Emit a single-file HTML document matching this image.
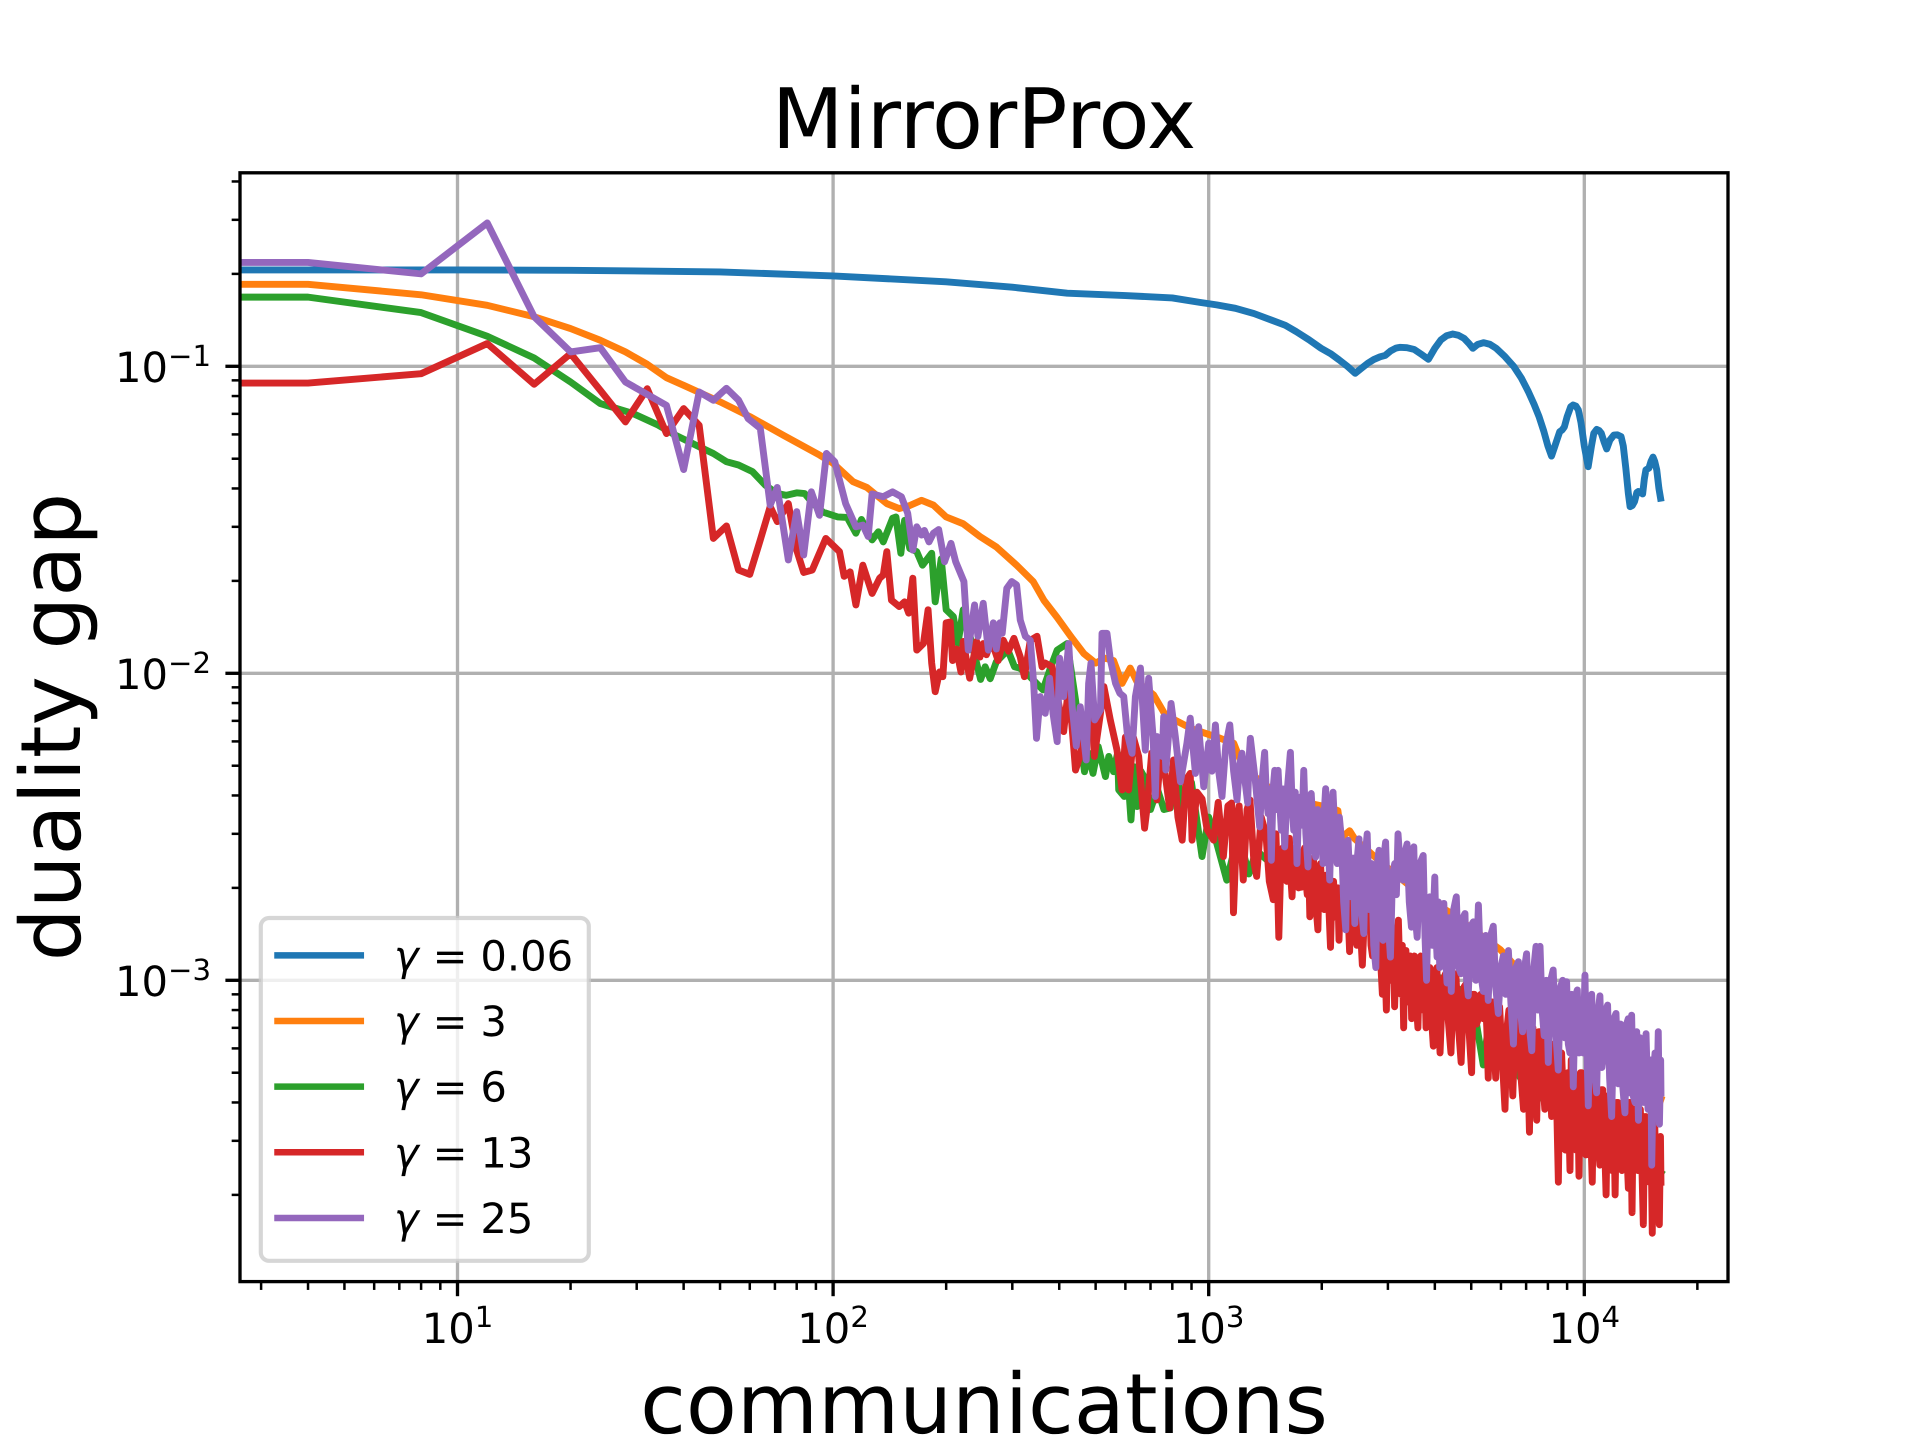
<!DOCTYPE html>
<html lang="en">
<head>
<meta charset="utf-8">
<title>MirrorProx</title>
<style>
html,body{margin:0;padding:0;background:#fff;width:1920px;height:1440px;overflow:hidden}
svg{display:block;text-rendering:geometricPrecision}
text{font-family:"DejaVu Sans","Liberation Sans",sans-serif;fill:#000}
</style>
</head>
<body>
<svg id="chart" xmlns="http://www.w3.org/2000/svg" width="1920" height="1440" viewBox="0 0 1920 1440">
  <defs><clipPath id="plot-clip"><rect x="240" y="172.8" width="1488" height="1108.8"/></clipPath></defs>
  <rect x="0" y="0" width="1920" height="1440" fill="#fff"/>
  <g id="grid"></g>
  <g id="series" clip-path="url(#plot-clip)"></g>
  <g id="ticks"></g>
  <g id="legend"></g>
  <rect x="240" y="172.8" width="1488" height="1108.8" fill="none" stroke="#000" stroke-width="3.33"/>
  <text x="984" y="147.8" font-size="83.33" text-anchor="middle">MirrorProx</text>
  <text x="984" y="1433" font-size="83.33" text-anchor="middle">communications</text>
  <text x="80" y="727" font-size="83.33" text-anchor="middle" transform="rotate(-90 80 727)">duality gap</text>
</svg>
<script>
var seriesNames = ['gamma-0.06', 'gamma-3', 'gamma-6', 'gamma-13', 'gamma-25'];
var legendValues = ['0.06', '3', '6', '13', '25'];
var seriesColors = ['#1f77b4', '#ff7f0e', '#2ca02c', '#d62728', '#9467bd'];
var xMajorTicks = [10, 100, 1000, 10000];
var xMajorExponents = ['1', '2', '3', '4'];
var yMajorTicks = [0.1, 0.01, 0.001];
var yMajorExponents = ['\u22121', '\u22122', '\u22123'];
var xMinorTicks = [3,4,5,6,7,8,9,20,30,40,50,60,70,80,90,200,300,400,500,600,700,800,900,2000,3000,4000,5000,6000,7000,8000,9000,20000];
var yMinorTicks = [0.4,0.3,0.2,0.09,0.08,0.07,0.06,0.05,0.04,0.03,0.02,0.009,0.008,0.007,0.006,0.005,0.004,0.003,0.002,0.0009,0.0008,0.0007,0.0006,0.0005,0.0004,0.0003,0.0002];

/* each series: [communications, duality gap] pairs */
var bluePoints = [[0,.206],[4,.206],[10,.206],[20,.2055],[50,.203],[100,.197],[200,.1885],[300,.181],[420,.173],[600,.17],[800,.167],[947,.1615],[1050,.1585],[1178,.1545],[1320,.1485],[1467,.1415],[1600,.136],[1710,.1297],[1850,.122],[1991,.1145],[2110,.11],[2223,.105],[2340,.1],[2455,.0949],[2550,.0985],[2651,.1023],[2750,.1052],[2859,.1074],[2950,.1085],[3050,.1122],[3150,.1146],[3227,.1153],[3370,.115],[3524,.1135],[3680,.1095],[3846,.1054],[4000,.1145],[4152,.1219],[4300,.1258],[4460,.1274],[4620,.1262],[4786,.1233],[4920,.119],[5050,.1145],[5200,.1178],[5395,.1194],[5600,.118],[5825,.1145],[6150,.1075],[6497,.0997],[6800,.0915],[7096,.0827],[7350,.0752],[7576,.0686],[7800,.0615],[8000,.055],[8180,.051],[8330,.0545],[8454,.0575],[8600,.0612],[8738,.0621],[8850,.0635],[9000,.0685],[9200,.0738],[9337,.0748],[9500,.0742],[9640,.0721],[9800,.0655],[10000,.055],[10240,.0471],[10450,.055],[10600,.0605],[10790,.0623],[10950,.0618],[11100,.0605],[11300,.0565],[11470,.0538],[11700,.0575],[11990,.0597],[12250,.0598],[12530,.059],[12700,.055],[12900,.0465],[13100,.0385],[13240,.0349],[13420,.0352],[13610,.0363],[13800,.0388],[13930,.0391],[14150,.0388],[14300,.0384],[14450,.043],[14590,.046],[14860,.0466],[15050,.049],[15240,.0506],[15400,.049],[15590,.046],[15800,.04],[15960,.0372]];

var orangePoints = [[0,.185],[4,.185],[8,.171],[12,.158],[16,.145],[20,.1327],[24,.1216],[28,.1114],[32,.1015],[36,.0918],[40,.0867],[50,.0766],[60,.0686],[73.6,.0597],[92,.0514],[100,.0483],[113,.0421],[123,.0403],[139,.0357],[150,.0344],[160,.0352],[172,.0366],[185,.0353],[200,.0323],[222,.0307],[246,.0279],[272,.0258],[308,.0225],[341,.0199],[364,.0173],[395,.0152],[429,.0132],[465,.0116],[500,.0108],[530,.0112],[558,.011],[588,.00927],[618,.0104],[644,.0094],[713,.00851],[767,.00731],[900,.0066],[1074,.00614],[1166,.00592],[1214,.00522],[1288,.00473],[1517,.00407],[1800,.0038],[2100,.00365],[2208,.00357],[2256,.00292],[2372,.00307],[2448,.00289],[2900,.0024],[3648,.00191],[4395,.00166],[5970,.00126],[8000,.00085],[10500,.00062],[13500,.00044],[16000,.00041]];

var greenPoints = [[0,.168],[4,.168],[8,.1496],[12,.1253],[16,.1064],[20,.0889],[24,.0756],[29.3,.0702],[34,.0646],[38,.0597],[44,.0547],[48,.052],[52,.0489],[56,.0477],[61,.0454],[66,.041],[71,.0385],[75,.038],[80,.0387],[84,.0385],[88.5,.0357],[94,.0335],[103,.0323],[109,.0322],[115,.0286],[119,.0317],[123,.0293],[127,.0272],[132,.0289],[136,.0268],[144,.032],[147,.0323],[151.5,.0246],[155,.0315],[160,.0255],[167,.0249],[173,.0225],[183,.0246],[187,.0171],[194,.0236],[200,.0161],[209,.0153],[215,.0125],[222,.0161],[233,.0128],[247,.00955],[254,.0105],[262,.0096],[272,.0109],[292,.0119],[304,.0105],[314,.0104],[334,.00976],[362,.00883],[380,.0105],[395,.0119],[420,.0125],[442,.00819],[467,.00478],[479,.00549],[492,.00472],[508,.00577],[531,.00461],[542,.00536],[558,.00478],[572,.00549],[576,.00417],[596,.00397],[608,.0048],[621,.00333],[634,.00496],[644,.00368],[660,.0048],[680,.0045],[700,.0036],[730,.0042],[760,.0036],[790,.00364],[815,.00496],[850,.0037],[900,.0044],[960,.00253],[1000,.0034],[1050,.0028],[1117,.00212],[1200,.003],[1279,.00222],[1340,.00265],[1427,.00247],[1581,.00253],[1901,.00212],[2056,.00191],[2600,.0015],[3500,.00116],[4500,.00095],[5000,.0009],[5165,.00072],[5383,.00053],[5550,.0007],[7000,.00045],[10000,.00033],[13000,.00028],[16000,.000236]];

var redPoints = [[0,.0882],[4,.0882],[8,.0946],[12,.1186],[16,.0874],[20,.11],[24,.0835],[28,.0659],[32,.0845],[36,.0604],[40,.0728],[44,.0642],[48,.0275],[52,.0302],[56,.0217],[60,.021],[64,.0272],[68,.0349],[71,.0312],[76,.0357],[80,.0252],[83.5,.0213],[88,.0217],[95.6,.0275],[104,.0249],[107,.0207],[111,.0214],[115,.0167],[120,.0225],[127,.0182],[133,.0204],[136,.0209],[139,.0249],[143,.0173],[150,.0165],[155,.0171],[159,.0157],[163,.0204],[167,.0119],[174,.0125],[179,.0161],[183,.0108],[187,.00871],[192,.0101],[196,.00975],[200,.0146],[205,.0147],[208,.011],[213,.012],[219,.0101],[222,.0127],[231,.00964],[241,.0127],[246,.0113],[251,.0125],[256,.0115],[264,.0128],[275,.011],[284,.0128],[293,.0118],[303,.013],[315,.0113],[323,.00975],[335,.0128],[349,.0132],[360,.0105],[367,.0108],[383,.0105],[391,.0091],[411,.00646],[424,.0091],[442,.00484],[455,.0054],[470,.0068],[489,.00741],[496,.00536],[515,.0074],[526,.00905],[547,.00705],[570,.00562],[588,.00417],[600,.0062],[612,.00417],[630,.0062],[651,.00536],[675,.00313],[686,.00368],[705,.0055],[728,.00387],[745,.0055],[759,.00509],[787,.00364],[806,.00522],[828,.0034],[850,.00286],[870,.0045],[893,.00472],[903,.00286],[930,.0041],[960,.0039],[990,.0031],[1031,.00286],[1060,.0038],[1094,.00253],[1125,.0037],[1151,.00378],[1164,.00166],[1190,.0034],[1205,.0037],[1236,.00212],[1265,.0036],[1288,.00387],[1320,.0024],[1342,.00218],[1380,.0034],[1420,.003],[1450,.0021],[1486,.00183],[1498,.0026],[1510,.003],[1523,.0022],[1537,.00138],[1556,.0024],[1575,.0027],[1595,.0022],[1614,.0021],[1627,.0027],[1640,.0029],[1653,.0022],[1667,.00187],[1683,.0026],[1700,.0027],[1717,.0022],[1735,.002],[1750,.0026],[1766,.00201],[1783,.0026],[1800,.0027],[1815,.0021],[1830,.0019],[1845,.0024],[1859,.00161],[1880,.0024],[1900,.0025],[1926,.0018],[1953,.00146],[1969,.0023],[1985,.0024],[2007,.0018],[2030,.0017],[2050,.0022],[2070,.0022],[2090,.0017],[2110,.00128],[2130,.002],[2150,.0021],[2170,.0017],[2190,.0016],[2206,.002],[2223,.00135],[2242,.0019],[2260,.002],[2285,.0015],[2310,.0015],[2340,.0019],[2372,.00124],[2390,.0018],[2410,.0019],[2445,.0014],[2480,.0013],[2520,.0017],[2565,.00112],[2590,.0015],[2620,.0016],[2650,.0018],[2680,.0018],[2705,.0013],[2730,.0012],[2760,.0015],[2794,.00113],[2810,.0015],[2830,.0017],[2865,.0012],[2900,.0009],[2936,.0013],[2972,.0008],[2996,.0013],[3020,.0015],[3045,.001],[3070,.0011],[3098,.0014],[3126,.00082],[3160,.0013],[3199,.00157],[3225,.0011],[3250,.0009],[3277,.0013],[3304,.0007],[3327,.0012],[3350,.00125],[3380,.00085],[3410,.0009],[3440,.0012],[3470,.00075],[3500,.0011],[3530,.0012],[3568,.00085],[3606,.0007],[3638,.0011],[3670,.0012],[3700,.00082],[3730,.0008],[3760,.0011],[3790,.0007],[3835,.0011],[3880,.0011],[3920,.00075],[3963,.00061],[4006,.00105],[4050,.0011],[4090,.00075],[4130,.00058],[4200,.001],[4270,.00105],[4340,.00075],[4416,.00058],[4480,.00095],[4550,.00105],[4625,.0007],[4700,.00054],[4780,.00095],[4860,.00098],[4935,.00068],[5012,.0005],[5055,.0009],[5100,.0009],[5165,.00072],[5225,.00075],[5300,.0009],[5383,.00075],[5450,.0009],[5500,.0007],[5549,.00048],[5625,.00085],[5700,.00085],[5755,.0006],[5810,.00048],[5880,.00082],[5950,.00082],[6050,.00055],[6150,.00038],[6225,.0007],[6300,.0008],[6375,.0006],[6450,.00042],[6550,.00075],[6650,.00075],[6770,.0005],[6890,.00038],[6955,.0007],[7020,.00072],[7080,.0005],[7145,.00032],[7220,.0007],[7300,.0007],[7385,.0005],[7470,.00035],[7560,.00068],[7650,.00068],[7750,.00048],[7850,.00038],[7925,.00065],[8000,.00065],[8090,.00048],[8185,.00036],[8270,.00062],[8350,.00062],[8440,.0004],[8530,.00022],[8615,.00058],[8700,.00058],[8800,.0004],[8900,.00028],[9030,.0005],[9160,.00024],[9230,.00055],[9300,.00055],[9400,.00035],[9500,.00028],[9590,.00048],[9680,.00023],[9765,.0005],[9850,.0005],[9975,.00035],[10100,.00027],[10200,.00048],[10300,.00048],[10400,.00032],[10500,.00022],[10600,.00046],[10700,.00046],[10850,.00032],[11000,.00025],[11100,.00044],[11200,.00044],[11315,.0003],[11430,.0002],[11540,.00042],[11650,.00042],[11750,.0003],[11850,.00024],[11965,.0004],[12080,.0002],[12190,.0004],[12300,.0004],[12450,.00028],[12600,.00024],[12725,.0004],[12850,.0004],[12975,.00028],[13100,.00021],[13175,.0004],[13250,.0004],[13325,.00028],[13400,.000175],[13500,.00038],[13600,.00038],[13750,.00028],[13900,.00024],[14000,.00038],[14100,.00038],[14230,.00025],[14360,.00016],[14480,.00036],[14600,.00036],[14750,.00028],[14900,.00022],[15035,.00034],[15170,.00015],[15285,.00034],[15400,.00034],[15500,.00024],[15600,.00019],[15720,.0003],[15840,.00016],[15950,.00031],[16000,.00022]];

var purplePoints = [[0,.218],[4,.218],[8,.2],[12,.293],[16,.145],[20,.1114],[24,.115],[28,.0889],[36,.0746],[40,.0461],[44,.0825],[48,.0775],[52,.0848],[56,.0776],[59.4,.0676],[64,.0628],[68,.0353],[71,.0403],[76,.0234],[80,.0336],[83.5,.0243],[87.5,.039],[92,.0327],[96,.052],[101,.0489],[108,.0357],[115,.03],[120,.0304],[124,.0279],[127,.0384],[136,.0376],[144,.039],[152,.0376],[158,.0332],[163,.0252],[167,.03],[172,.0282],[175,.0292],[180,.0268],[185,.0286],[191,.0294],[198,.0231],[206,.0265],[212,.0231],[223,.0199],[229,.0119],[238,.0167],[243,.0132],[251,.0169],[259,.0119],[267,.0146],[272,.012],[278,.0146],[282,.0135],[290,.0189],[299,.0199],[308,.0194],[315,.0149],[325,.0132],[335,.0128],[342,.00927],[348,.00614],[356,.0084],[367,.00741],[377,.00964],[385,.00741],[395,.00599],[401,.0112],[411,.0084],[424,.0125],[433,.00778],[444,.0058],[455,.00778],[472,.00522],[479,.00927],[486,.0108],[497,.00705],[515,.0076],[520,.0135],[536,.0135],[547,.0111],[565,.00927],[580,.00861],[594,.0084],[607,.00638],[625,.00549],[638,.0084],[658,.0104],[678,.00562],[692,.00964],[711,.00622],[721,.00397],[728,.00622],[752,.00536],[759,.00722],[769,.00484],[794,.00798],[815,.00622],[841,.00443],[875,.00592],[893,.00714],[922,.00472],[940,.0067],[970,.00427],[1000,.00592],[1020,.0048],[1042,.00679],[1063,.0048],[1085,.00397],[1110,.0058],[1138,.00679],[1165,.0048],[1190,.00387],[1208,.005],[1226,.00549],[1248,.0045],[1270,.00378],[1280,.0052],[1291,.00614],[1330,.0045],[1367,.00316],[1388,.0045],[1409,.00553],[1424,.004],[1439,.00349],[1453,.0042],[1468,.00246],[1484,.0042],[1499,.00483],[1515,.0036],[1530,.00483],[1545,.0038],[1561,.00308],[1577,.0042],[1593,.00272],[1620,.0042],[1650,.00553],[1667,.0038],[1684,.00308],[1700,.0041],[1718,.0024],[1736,.0037],[1754,.00395],[1772,.0032],[1791,.00483],[1814,.003],[1838,.00234],[1856,.0035],[1875,.00406],[1900,.003],[1926,.00252],[1950,.0036],[1974,.00323],[1995,.0034],[2015,.0024],[2030,.0035],[2048,.00421],[2075,.003],[2100,.00212],[2120,.0034],[2143,.0041],[2170,.0029],[2198,.0024],[2228,.0034],[2257,.00286],[2287,.0018],[2317,.00146],[2333,.0025],[2350,.00286],[2375,.0021],[2399,.00187],[2424,.0025],[2449,.00153],[2480,.0024],[2513,.00289],[2550,.0017],[2588,.00142],[2615,.0026],[2642,.003],[2680,.0017],[2713,.0024],[2750,.0013],[2786,.0011],[2812,.0024],[2840,.00265],[2875,.0014],[2911,.00135],[2935,.0026],[2958,.00282],[3000,.0016],[3047,.00119],[3085,.0022],[3128,.0024],[3160,.0019],[3192,.003],[3240,.0023],[3291,.00212],[3330,.0026],[3373,.00278],[3420,.0018],[3466,.00149],[3490,.0026],[3516,.00272],[3550,.0016],[3589,.00138],[3650,.0024],[3724,.00255],[3765,.0014],[3802,.001],[3840,.0018],[3877,.00187],[3935,.0013],[3999,.00217],[4030,.0014],[4055,.00119],[4090,.0018],[4121,.0011],[4170,.0017],[4227,.00178],[4270,.0012],[4310,.00098],[4365,.0016],[4424,.00092],[4490,.0017],[4563,.00187],[4630,.0011],[4696,.00105],[4750,.0016],[4812,.00165],[4860,.001],[4909,.00089],[4985,.0015],[5064,.00155],[5145,.001],[5225,.00176],[5300,.00105],[5383,.00092],[5465,.0014],[5549,.00086],[5635,.0014],[5723,.0015],[5810,.00095],[5903,.00078],[5995,.0011],[6086,.0012],[6180,.0009],[6279,.00125],[6375,.00085],[6476,.00062],[6575,.0011],[6675,.00115],[6760,.0008],[6850,.00068],[6935,.0011],[7020,.00122],[7130,.00072],[7248,.00059],[7340,.0011],[7437,.00129],[7530,.0008],[7623,.00129],[7720,.0008],[7820,.00066],[7920,.001],[8018,.00054],[8140,.001],[8262,.00108],[8390,.00068],[8525,.00051],[8640,.00095],[8756,.001],[8865,.00065],[8972,.00099],[9065,.00062],[9158,.00058],[9250,.0009],[9346,.00045],[9460,.00088],[9580,.00093],[9690,.00058],[9797,.00085],[9920,.00058],[10041,.00104],[10100,.0007],[10170,.00058],[10248,.00039],[10350,.00082],[10460,.0009],[10620,.00052],[10785,.00043],[10900,.0008],[11005,.00089],[11140,.00052],[11280,.0006],[11410,.0008],[11535,.00083],[11680,.00048],[11826,.00036],[11985,.00075],[12145,.00078],[12320,.00046],[12490,.00072],[12660,.00045],[12830,.00037],[12960,.00072],[13094,.00075],[13230,.00043],[13366,.00077],[13500,.00042],[13647,.0004],[13790,.00068],[13936,.00035],[14075,.00065],[14214,.0006],[14400,.0004],[14600,.00067],[14780,.00038],[14961,.0004],[15040,.00055],[15118,.00025],[15270,.0005],[15430,.00058],[15580,.00038],[15738,.00068],[15850,.00034],[15970,.00055],[16000,.00043]];

var NS = 'http://www.w3.org/2000/svg';
var plotLeft = 240, plotRight = 1728, plotTop = 172.8, plotBottom = 1281.6;
var xTenPixel = 457.5, xDecadePixels = 375.6;
var yTenthPixel = 366.3, yDecadePixels = 307.0;

function xScale(v) {
  if (v <= 0) { return plotLeft - 30; }
  return xTenPixel + (Math.log10(v) - 1) * xDecadePixels;
}
function yScale(v) {
  return yTenthPixel - (Math.log10(v) + 1) * yDecadePixels;
}
function make(tag, parent) {
  var el = document.createElementNS(NS, tag);
  parent.appendChild(el);
  return el;
}
function line(parent, x1, y1, x2, y2, color, width) {
  var el = make('line', parent);
  el.setAttribute('x1', x1);
  el.setAttribute('y1', y1);
  el.setAttribute('x2', x2);
  el.setAttribute('y2', y2);
  el.setAttribute('stroke', color);
  el.setAttribute('stroke-width', width);
  return el;
}
function powerLabel(parent, x, y, anchor, exponent) {
  var t = make('text', parent);
  t.setAttribute('x', x);
  t.setAttribute('y', y);
  t.setAttribute('font-size', '41.67');
  t.setAttribute('text-anchor', anchor);
  var base = make('tspan', t);
  base.textContent = '10';
  var sup = make('tspan', t);
  sup.setAttribute('dy', '-16');
  sup.setAttribute('font-size', '29.17');
  sup.textContent = exponent;
  return t;
}

var gridGroup = document.getElementById('grid');
var tickGroup = document.getElementById('ticks');
var seriesGroup = document.getElementById('series');
var legendGroup = document.getElementById('legend');

xMajorTicks.forEach(function (v, i) {
  var g = line(gridGroup, xScale(v), plotTop, xScale(v), plotBottom, '#b0b0b0', 3.33);
  
  
  var t = line(tickGroup, xScale(v), plotBottom, xScale(v), plotBottom + 14.6, '#000', 3.33);
  
  
  var l = powerLabel(tickGroup, xScale(v), 1343, 'middle', xMajorExponents[i]);
  
  
});
xMinorTicks.forEach(function (v) {
  var t = line(tickGroup, xScale(v), plotBottom, xScale(v), plotBottom + 8.33, '#000', 2.5);
  
  
});
yMajorTicks.forEach(function (v, i) {
  var g = line(gridGroup, plotLeft, yScale(v), plotRight, yScale(v), '#b0b0b0', 3.33);
  
  
  var t = line(tickGroup, plotLeft, yScale(v), plotLeft - 14.6, yScale(v), '#000', 3.33);
  
  
  var l = powerLabel(tickGroup, 211, yScale(v) + 15.5, 'end', yMajorExponents[i]);
  
  
});
yMinorTicks.forEach(function (v) {
  var t = line(tickGroup, plotLeft, yScale(v), plotLeft - 8.33, yScale(v), '#000', 2.5);
  
  
});

var seriesPoints = [bluePoints, orangePoints, greenPoints, redPoints, purplePoints];
seriesNames.forEach(function (name, i) {
  var d = '';
  seriesPoints[i].forEach(function (pt, k) {
    d += (k ? 'L' : 'M') + xScale(pt[0]).toFixed(2) + ' ' + yScale(pt[1]).toFixed(2);
  });
  var p = make('path', seriesGroup);
  p.setAttribute('d', d);
  p.setAttribute('fill', 'none');
  p.setAttribute('stroke', seriesColors[i]);
  p.setAttribute('stroke-width', '6.9');
  p.setAttribute('stroke-linejoin', 'round');
  p.setAttribute('stroke-linecap', 'square');
  
  
});

var box = make('rect', legendGroup);
box.setAttribute('x', '260.8');
box.setAttribute('y', '918');
box.setAttribute('width', '328');
box.setAttribute('height', '342.8');
box.setAttribute('rx', '8.3');
box.setAttribute('fill', 'rgba(255,255,255,0.8)');
box.setAttribute('stroke', 'rgba(204,204,204,0.8)');
box.setAttribute('stroke-width', '4.17');



var legendRowOffsets = [955.4, 1021, 1086.6, 1152.3, 1218];
legendValues.forEach(function (label, i) {
  var ry = legendRowOffsets[i];
  var h = line(legendGroup, 277.5, ry, 360.8, ry, seriesColors[i], 6.5);
  h.setAttribute('stroke-linecap', 'square');
  
  
  var t = make('text', legendGroup);
  t.setAttribute('y', ry + 15);
  t.setAttribute('font-size', '41.67');
  
  
  var gamma = make('tspan', t);
  gamma.setAttribute('x', '394');
  gamma.setAttribute('font-style', 'italic');
  gamma.textContent = '\u03b3';
  var eq = make('tspan', t);
  eq.setAttribute('x', '432.6');
  eq.textContent = '=';
  var val = make('tspan', t);
  val.setAttribute('x', '480.4');
  val.textContent = label;
});
</script>
</body>
</html>
